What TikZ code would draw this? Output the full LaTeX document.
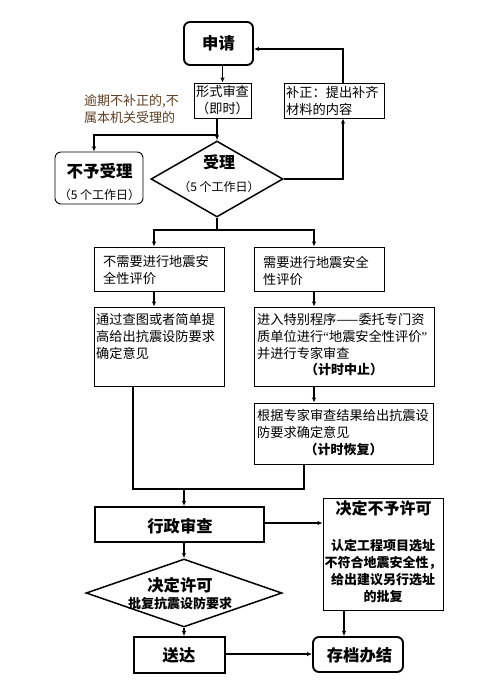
\documentclass[tikz,border=0pt]{standalone}
\usepackage{fontspec}
\newfontfamily\cjk{Noto Sans CJK SC}
\newfontfamily\lat{Liberation Serif}
\usetikzlibrary{arrows.meta,shapes.geometric}
\definecolor{brn}{RGB}{95,62,35}
\begin{document}
\begin{tikzpicture}[x=1pt,y=-1pt,
  thin box/.style={draw, line width=0.9pt, inner sep=0pt},
  thick box/.style={draw, line width=1.9pt, inner sep=0pt},
  dia/.style={draw, diamond, line width=1.5pt, inner sep=0pt},
  arr/.style={line width=1.3pt, -{Latex[length=5pt,width=4.5pt]}},
  ln/.style={line width=1.3pt},
  txt/.style={inner sep=0pt, align=left, font=\cjk\fontsize{13.2}{17}\selectfont},
  ctxt/.style={inner sep=0pt, align=center, font=\cjk\fontsize{13.2}{17}\selectfont},
  small/.style={inner sep=0pt, font=\cjk\fontsize{12}{14}\selectfont},
  bsmall/.style={inner sep=0pt, align=center, font=\cjk\bfseries\fontsize{13}{17.3}\selectfont},
  big/.style={font=\cjk\bfseries\fontsize{16.3}{19}\selectfont}
]
\useasboundingbox (0,0) rectangle (490,696);
\fill[white] (0,0) rectangle (490,696);

% top part
\node[thick box, rounded corners=6pt, minimum width=69pt, minimum height=43pt, big] (sq) at (218.5,43.5) {申请};
\node[thin box, minimum width=57pt, minimum height=35pt, ctxt] (xs) at (222.5,100.5) {形式审查\\（即时）};
\node[thin box, minimum width=100pt, minimum height=35pt] (bz) at (334,100.5) {};
\node[txt, anchor=west] (bzt) at (286,100.5) {补正：提出补齐\\材料的内容};
\node[txt, anchor=west, text=brn, font=\cjk\fontsize{13}{16.5}\selectfont] (yq) at (84,109) {逾期不补正的,不\\属本机关受理的};

\node[thin box, rounded corners=6pt, minimum width=88pt, minimum height=52pt] (by) at (99,178) {};
\node[big, inner sep=0pt, font=\cjk\bfseries\fontsize{16.5}{19}\selectfont] (byt) at (99.5,171) {不予受理};
\node[small] (byd) at (99.5,195) {（5 个工作日）};

\node[dia, minimum width=132pt, minimum height=76pt] (sl) at (217,179) {};
\node[big, inner sep=0pt, font=\cjk\bfseries\fontsize{16}{19}\selectfont] (slt) at (219,162) {受理};
\node[small] (sld) at (219,187) {（5 个工作日）};

\coordinate (br) at (217,135);
\draw[arr] (sq.south -| xs.north) -- (xs.north);
\draw[ln] (xs.south -| sl.north) -- (br);
\draw[arr] (br) -- (sl.north);
\draw[arr] (br) -| ([xshift=-5pt]by.north);
\draw[arr] (sl.east) -| ([xshift=9pt]bz.south);
\draw[arr] ([xshift=9pt]bz.north) |- ([yshift=-5.5pt]sq.east);

% middle part
\node[thin box, minimum width=130pt, minimum height=44pt] (L1) at (159,269) {};
\node[txt, anchor=west] (L1t) at (103,270.5) {不需要进行地震安\\全性评价};
\node[thin box, minimum width=130pt, minimum height=44pt] (R1) at (319,269) {};
\node[txt, anchor=west] (R1t) at (263,270.5) {需要进行地震安全\\性评价};

\node[thin box, minimum width=130pt, minimum height=79pt] (L2) at (159,346.5) {};
\node[txt, anchor=west] (L2t) at (96,336) {通过查图或者简单提\\高给出抗震设防要求\\确定意见};
\node[thin box, minimum width=180pt, minimum height=79pt] (R2) at (344,346.5) {};
\node[txt, anchor=west] (R2t) at (257,336) {进入特别程序——委托专门资\\质单位进行{\lat “}地震安全性评价{\lat ”}\\并进行专家审查};
\node[bsmall] (R2b) at (344,370) {（计时中止）};

\node[thin box, minimum width=179pt, minimum height=61pt] (R3) at (343.5,433.5) {};
\node[txt, anchor=west] (R3t) at (257,423.5) {根据专家审查结果给出抗震设\\防要求确定意见};
\node[bsmall] (R3b) at (343.5,450) {（计时恢复）};

\coordinate (b2) at (217,230);
\coordinate (cL1) at (154,0);
\coordinate (cR1) at (314,0);
\coordinate (cL2) at (133,0);
\coordinate (cR3) at (304,0);
\coordinate (m) at (184,489);
\draw[ln] (sl.south) -- (b2);
\draw[arr] (b2) -| (cL1 |- L1.north);
\draw[arr] (b2) -| (cR1 |- R1.north);
\draw[arr] (cL1 |- L1.south) -- (cL1 |- L2.north);
\draw[arr] (cR1 |- R1.south) -- (cR1 |- R2.north);
\draw[arr] (cR1 |- R2.south) -- (cR1 |- R3.north);
\draw[ln] (cL2 |- L2.south) |- (m);
\draw[ln] (cR3 |- R3.south) |- (m);

% bottom part
\node[thick box, minimum width=169pt, minimum height=35pt] (xz) at (179.5,524.5) {};
\node[big, inner sep=0pt] (xzt) at (180,526) {行政审查};
\node[thin box, minimum width=120pt, minimum height=112pt] (jb) at (383,554) {};
\node[big, inner sep=0pt, font=\cjk\bfseries\fontsize{16}{19}\selectfont] (jbt) at (383.5,508) {决定不予许可};
\node[bsmall] (jbd) at (383,571) {认定工程项目选址\\不符合地震安全性，\\给出建议另行选址\\的批复};

\node[dia, minimum width=196pt, minimum height=68pt] (jd) at (184,593) {};
\node[big, inner sep=0pt] (jdt) at (180,585) {决定许可};
\node[bsmall] (jdd) at (180,604) {批复抗震设防要求};

\node[thick box, minimum width=91pt, minimum height=36pt] (sd) at (179.5,655) {};
\node[big, inner sep=0pt] (sdt) at (179,655) {送达};
\node[thick box, rounded corners=6pt, minimum width=90pt, minimum height=35pt] (cd) at (358,654.5) {};
\node[big, inner sep=0pt] (cdt) at (359.5,655) {存档办结};

\coordinate (cJ) at (344,0);
\draw[arr] (m) -- (m |- xz.north);
\draw[arr] ([yshift=1.5pt]xz.east) -- ([yshift=1.5pt]xz.east -| jb.west);
\draw[arr] (m |- xz.south) -- (jd.north);
\draw[arr] (jd.south) -- (jd.south |- sd.north);
\draw[arr] ([yshift=1pt]sd.east) -- ([yshift=1pt]sd.east -| cd.west);
\draw[arr] (cJ |- jb.south) -- (cJ |- cd.north);
\end{tikzpicture}
\end{document}
